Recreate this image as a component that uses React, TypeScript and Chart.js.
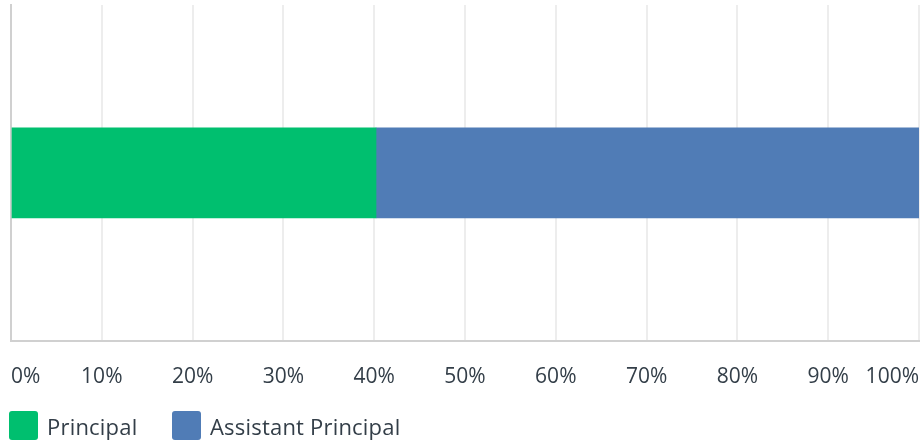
import React, { useEffect, useRef } from "react";
import { Chart, registerables } from "chart.js";

Chart.register(...registerables);

const categories = [""];
const seriesNames = ["Principal", "Assistant Principal"];
const principalValues = [40.2];
const assistantValues = [59.8];
const seriesColors = ["#00bf6f", "#507cb6"];
const tickValues = [0, 10, 20, 30, 40, 50, 60, 70, 80, 90, 100];

const FONT = "'Open Sans', sans-serif";
const TEXT = "#333e48";

export default function App() {
  const ref = useRef<HTMLCanvasElement | null>(null);

  useEffect(() => {
    if (!ref.current) return;
    const chart = new Chart(ref.current, {
      type: "bar",
      data: {
        labels: categories,
        datasets: [
          { label: seriesNames[0], data: principalValues, backgroundColor: seriesColors[0], barThickness: 90 },
          { label: seriesNames[1], data: assistantValues, backgroundColor: seriesColors[1], barThickness: 90 },
        ],
      },
      options: {
        indexAxis: "y",
        animation: false,
        responsive: true,
        maintainAspectRatio: false,
        layout: { padding: { left: 11, right: 3, top: 5, bottom: 10 } },
        plugins: { legend: { display: false }, tooltip: { enabled: false } },
        scales: {
          x: {
            stacked: true,
            min: 0,
            max: 100,
            afterBuildTicks: (axis: any) => {
              axis.ticks = tickValues.map((v) => ({ value: v }));
            },
            grid: { color: "#ededed", lineWidth: 2, drawTicks: false },
            border: { display: true, color: "#d0d0d0", width: 2 },
            ticks: {
              align: "inner",
              padding: 24,
              color: TEXT,
              font: { family: FONT, size: 21 },
              callback: (v: any) => v + "%",
            },
          },
          y: {
            stacked: true,
            grid: { display: false },
            border: { display: true, color: "#d0d0d0", width: 2 },
            ticks: { display: false },
          },
        },
      },
    });
    return () => chart.destroy();
  }, []);

  return (
    <div style={{ position: "fixed", left: 0, top: 0, width: 922, height: 445, background: "#fff", overflow: "hidden" }}>
      <div style={{ position: "absolute", left: -13, top: 0, width: 956, height: 424 }}>
        <canvas ref={ref} />
      </div>
      {seriesNames.map((name, i) => (
        <div
          key={name}
          style={{
            position: "absolute",
            left: i === 0 ? 9 : 172,
            top: 411,
            height: 29,
            display: "flex",
            alignItems: "center",
            fontFamily: FONT,
            fontSize: 22,
            letterSpacing: 0.2,
            color: TEXT,
            whiteSpace: "nowrap",
          }}
        >
          <span
            style={{
              display: "inline-block",
              width: 29,
              height: 29,
              borderRadius: 3,
              background: seriesColors[i],
              marginRight: 9,
            }}
          />
          <span>{name}</span>
        </div>
      ))}
    </div>
  );
}
